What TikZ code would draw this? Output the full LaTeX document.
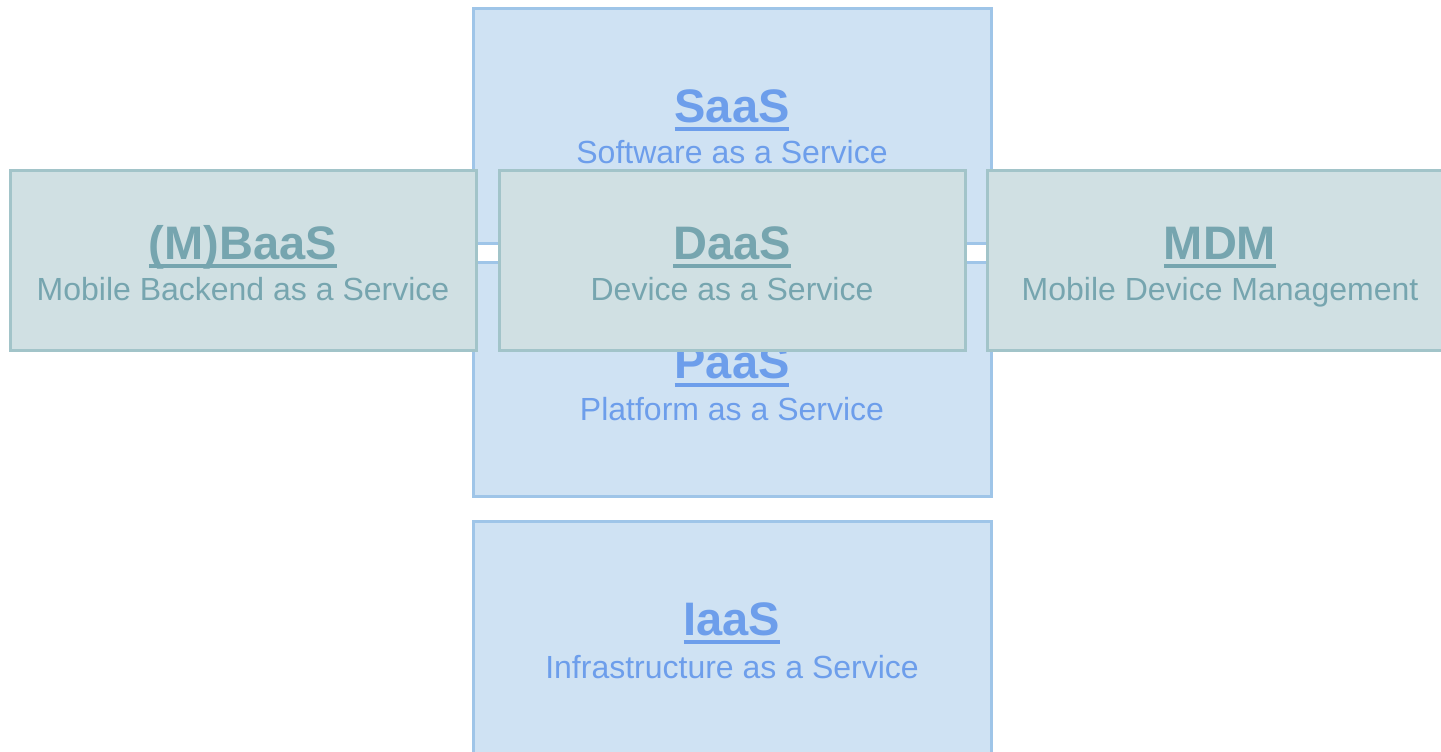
\documentclass[tikz,border=0pt]{standalone}
\usepackage{fontspec}
\setmainfont{Liberation Sans}
\definecolor{cloudfill}{HTML}{CFE2F3}
\definecolor{cloudline}{HTML}{9FC5E8}
\definecolor{cloudtext}{HTML}{6D9EEB}
\definecolor{mobfill}{HTML}{D0E0E3}
\definecolor{mobline}{HTML}{A2C4C9}
\definecolor{mobtext}{HTML}{76A5AF}
% underlined heading with a thick bar below the baseline
\newcommand\ulbar[1]{\setbox0=\hbox{#1}\rlap{\rule[-8.5pt]{\wd0}{3.3pt}}\box0}
\tikzset{
  layerbox/.style={rectangle, draw=cloudline, fill=cloudfill, line width=3pt,
    inner sep=0pt, outer sep=0pt, minimum width=518pt, minimum height=234pt},
  mobbox/.style={rectangle, draw=mobline, fill=mobfill, line width=3pt,
    inner sep=0pt, outer sep=0pt, minimum width=466pt, minimum height=180pt},
  headtext/.style={anchor=base, inner sep=0pt, font=\fontsize{47}{56}\selectfont\bfseries},
  subtext/.style={anchor=base, inner sep=0pt, font=\fontsize{32}{38}\selectfont},
}
\begin{document}
\begin{tikzpicture}[x=1pt,y=-1pt]
\clip (0,0) rectangle (1441,752);
\fill[white] (0,0) rectangle (1441,752);

% service layers
\node[layerbox] (saas) at (732,126) {};
\node[headtext, text=cloudtext] (saas-title) at (732,122) {\ulbar{SaaS}};
\node[subtext, text=cloudtext] (saas-sub) at (732,163) {Software as a Service};

\node[layerbox] (paas) at (732,379.5) {};
\node[headtext, text=cloudtext] (paas-title) at (732,378) {\ulbar{PaaS}};
\node[subtext, text=cloudtext] (paas-sub) at (732,420) {Platform as a Service};

\node[layerbox] (iaas) at (732,638) {};
\node[headtext, text=cloudtext] (iaas-title) at (732,635) {\ulbar{IaaS}};
\node[subtext, text=cloudtext] (iaas-sub) at (732,678) {Infrastructure as a Service};

% mobile services
\node[mobbox] (mbaas) at (243,260) {};
\node[headtext, text=mobtext] (mbaas-title) at (243,259) {\ulbar{(M)BaaS}};
\node[subtext, text=mobtext] (mbaas-sub) at (243,300) {Mobile Backend as a Service};

\node[mobbox] (daas) at (732,260) {};
\node[headtext, text=mobtext] (daas-title) at (732,259) {\ulbar{DaaS}};
\node[subtext, text=mobtext] (daas-sub) at (732,300) {Device as a Service};

\node[mobbox] (mdm) at (1220,260) {};
\node[headtext, text=mobtext] (mdm-title) at (1220,259) {\ulbar{MDM}};
\node[subtext, text=mobtext] (mdm-sub) at (1220,300) {Mobile Device Management};
\end{tikzpicture}
\end{document}
